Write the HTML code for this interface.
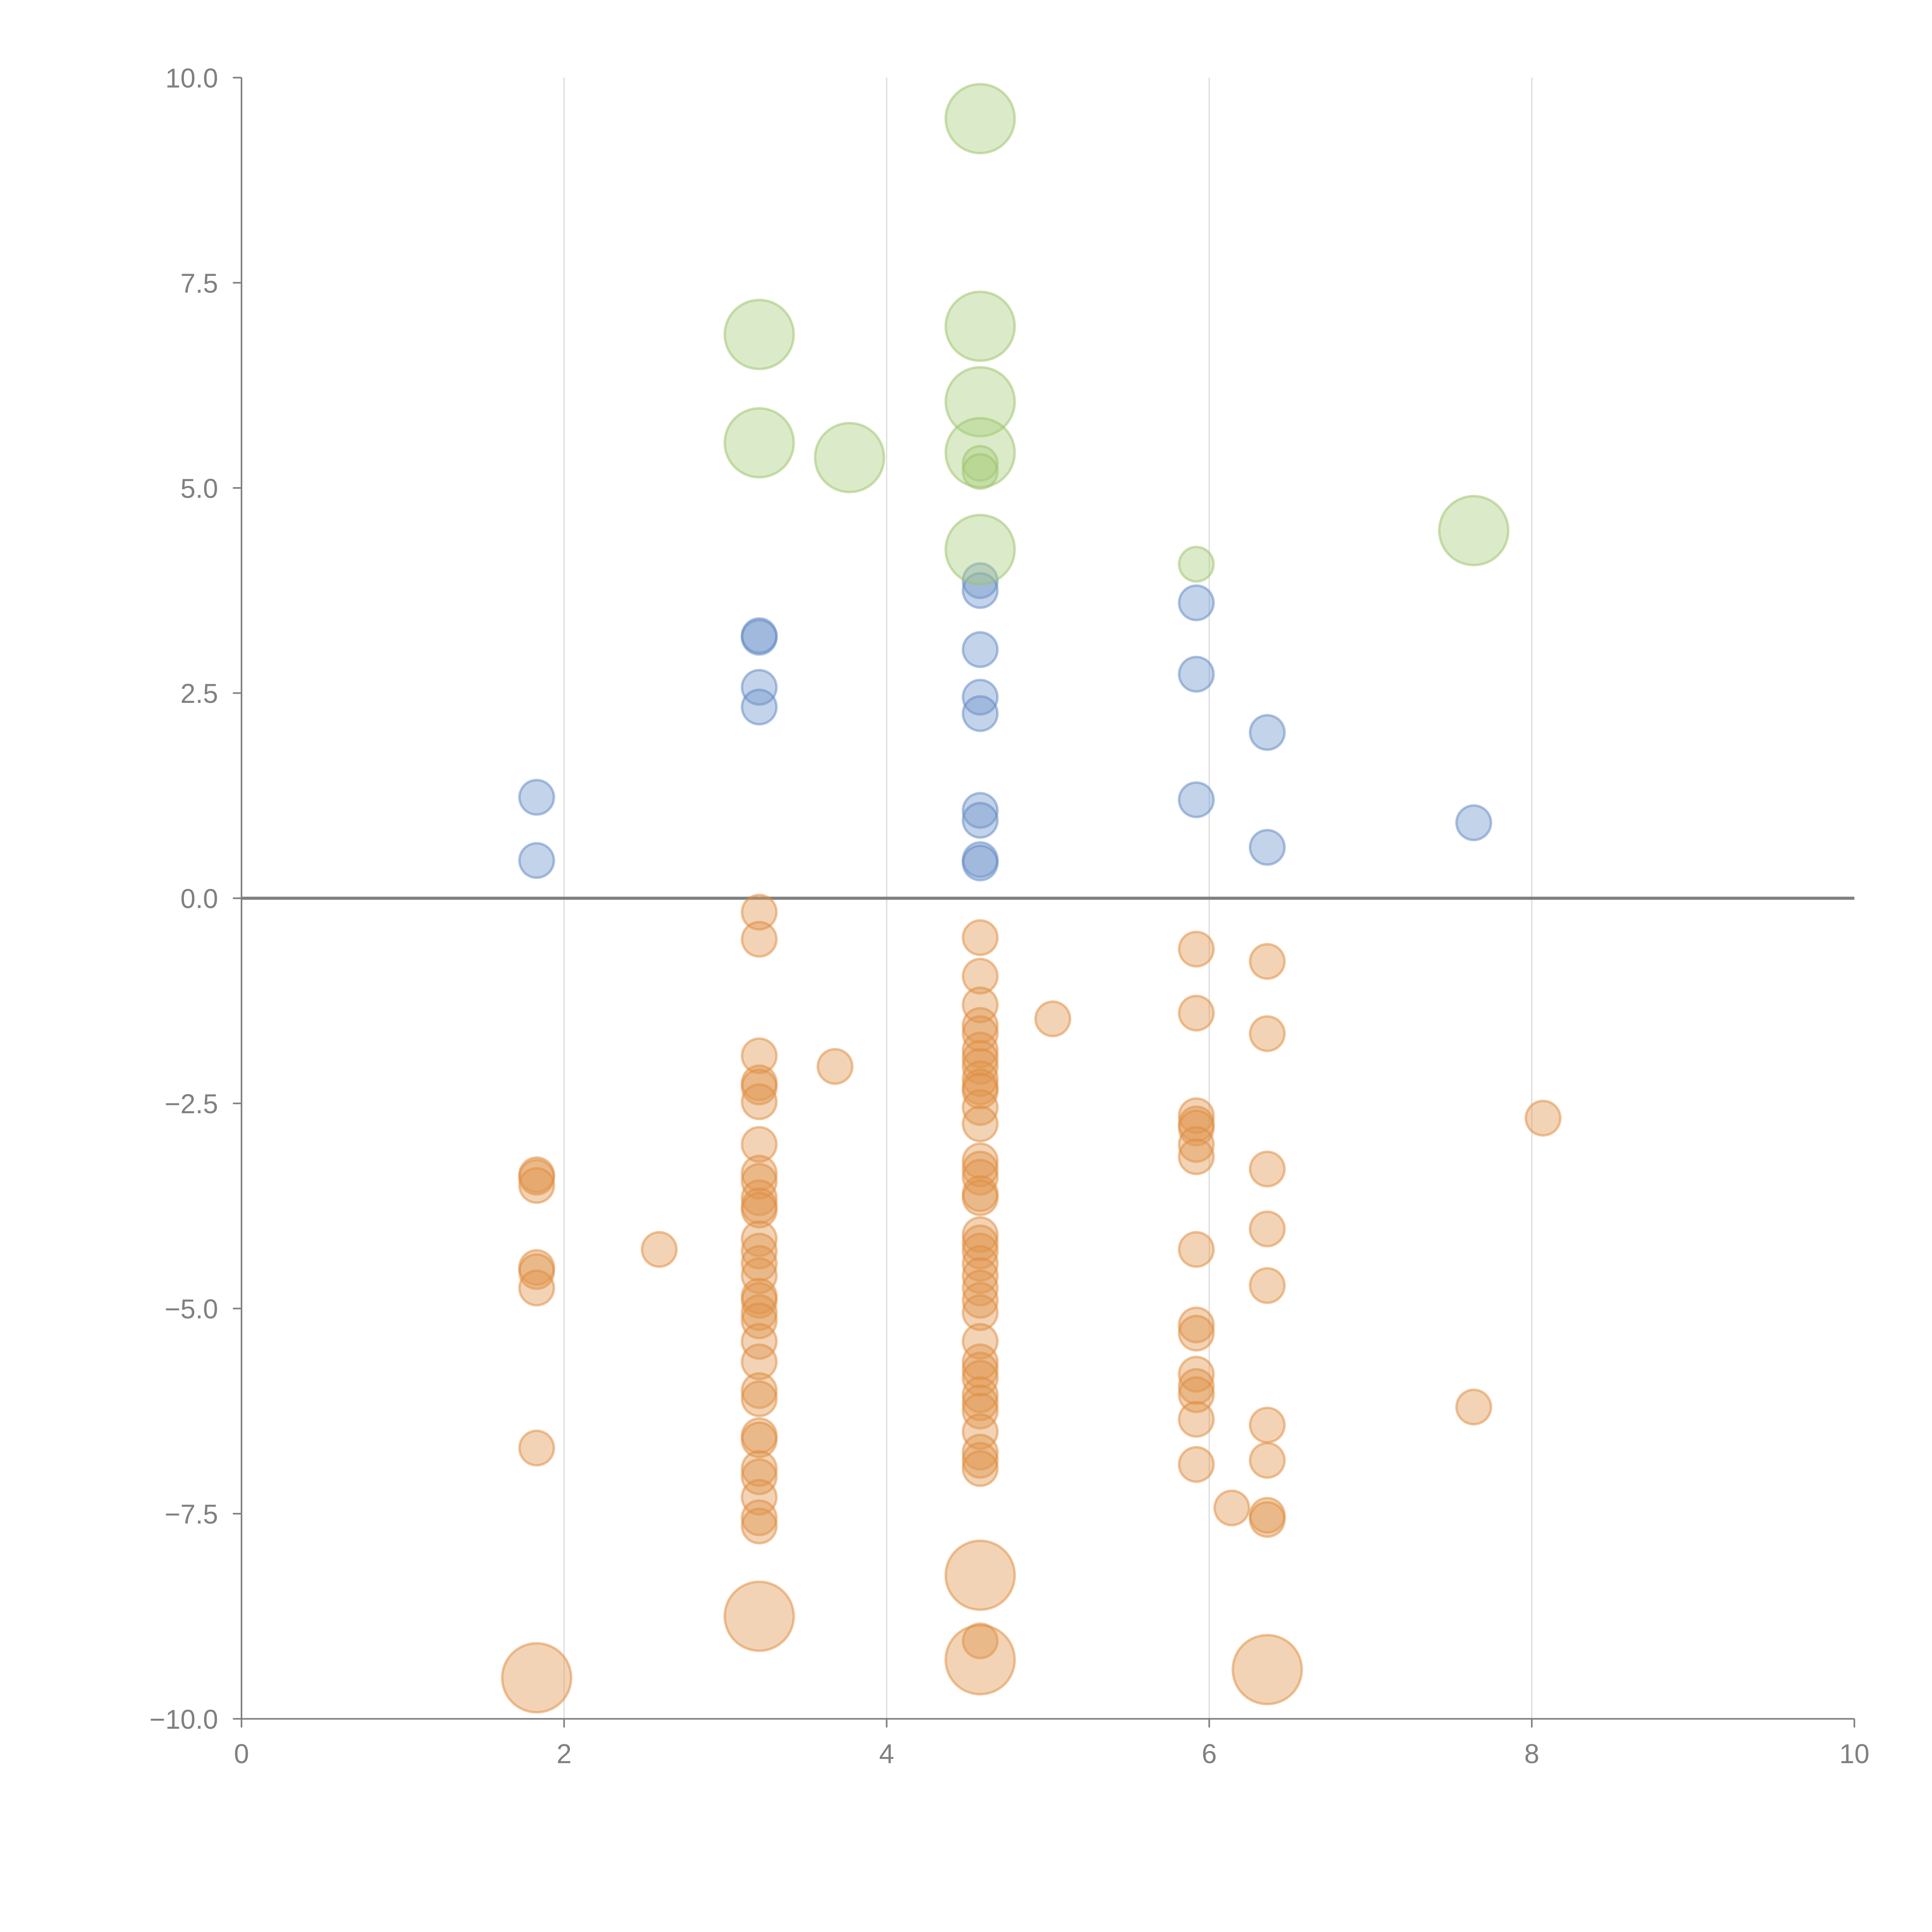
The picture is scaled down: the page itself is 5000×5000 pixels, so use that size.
<!DOCTYPE html>
<html><head><meta charset="utf-8"><style>
html,body{margin:0;padding:0;background:#fff;}
svg{display:block;}
text{font-family:"Liberation Sans",sans-serif;fill:#808080;}
</style></head><body>
<svg id="chart" width="5000" height="5000" viewBox="0 0 1568 1568" xmlns="http://www.w3.org/2000/svg">
<g id="grid"></g>
<g id="axes"></g>
<g id="marks"></g>
</svg>
<script>
const xTicks=[0,2,4,6,8,10];
const yTicks=[10,7.5,5,2.5,0,-2.5,-5,-7.5,-10];
const yTickLabels=["10.0","7.5","5.0","2.5","0.0","\u22122.5","\u22125.0","\u22127.5","\u221210.0"];
const greenX=[4.58,3.21,4.58,4.58,3.21,3.77,4.58,4.58,4.58,4.58,5.92,7.64];
const greenY=[9.5,6.87,6.97,6.05,5.55,5.37,5.43,5.3,5.2,4.25,4.07,4.48];
const greenBig=[1,1,1,1,1,1,1,0,0,1,0,1];
const blueX=[1.83,1.83,3.21,3.21,3.21,3.21,4.58,4.58,4.58,4.58,4.58,4.58,4.58,4.58,4.58,5.92,5.92,5.92,6.36,6.36,7.64];
const blueY=[1.23,0.46,3.18,3.2,2.57,2.33,3.87,3.75,3.03,2.45,2.25,1.07,0.95,0.47,0.43,3.6,2.73,1.2,2.02,0.62,0.92];
const orangeCols=[1.83,2.59,3.21,3.68,4.58,5.03,5.92,6.14,6.36,7.64,8.07];
const orangeVals=[
[-3.37,-3.4,-3.5,-4.5,-4.55,-4.75,-6.7],
[-4.28],
[-0.17,-0.5,-1.92,-2.25,-2.3,-2.48,-3.0,-3.35,-3.45,-3.65,-3.75,-3.8,-4.15,-4.3,-4.45,-4.6,-4.85,-4.9,-5.05,-5.15,-5.4,-5.65,-6.0,-6.1,-6.55,-6.6,-6.95,-7.05,-7.3,-7.55,-7.65],
[-2.05],
[-0.48,-0.95,-1.3,-1.55,-1.65,-1.85,-1.95,-2.05,-2.2,-2.3,-2.35,-2.55,-2.75,-3.2,-3.3,-3.4,-3.6,-3.65,-4.1,-4.2,-4.3,-4.45,-4.6,-4.75,-4.9,-5.05,-5.4,-5.65,-5.75,-5.85,-6.05,-6.15,-6.25,-6.5,-6.75,-6.85,-6.95,-9.05],
[-1.47],
[-0.62,-1.4,-2.65,-2.75,-2.8,-3.0,-3.15,-4.28,-5.2,-5.3,-5.8,-5.95,-6.05,-6.35,-6.9],
[-7.43],
[-0.77,-1.65,-3.3,-4.03,-4.72,-6.42,-6.85,-7.52,-7.57],
[-6.2],
[-2.68]
];
const orangeBigX=[1.83,3.21,4.58,4.58,6.36];
const orangeBigY=[-9.5,-8.75,-8.25,-9.28,-9.4];

const NS="http://www.w3.org/2000/svg";
const X0=196,X1=1505,Y0=63,Y1=1395;
const sx=v=>X0+(v-0)/(10-0)*(X1-X0);
const sy=v=>Y0+(10-v)/20*(Y1-Y0);
const grid=document.getElementById('grid'),axes=document.getElementById('axes'),marks=document.getElementById('marks');
function mk(tag,attrs,parent){const e=document.createElementNS(NS,tag);for(const k in attrs)e.setAttribute(k,attrs[k]);parent.appendChild(e);return e;}

xTicks.forEach(t=>{
  if(t>0&&t<10){
    const g=mk('line',{x1:sx(t),x2:sx(t),y1:Y0,y2:Y1,stroke:'#dcdcdc','stroke-width':1},grid);
    
    
  }
  const tk=mk('line',{x1:sx(t),x2:sx(t),y1:Y1,y2:Y1+7,stroke:'#808080','stroke-width':1.3},axes);
  
  
  const tx=mk('text',{x:sx(t),y:Y1+36,'text-anchor':'middle','font-size':22},axes);
  tx.textContent=String(t);
  
  
});
yTicks.forEach((t,i)=>{
  const tk=mk('line',{x1:X0-7,x2:X0,y1:sy(t),y2:sy(t),stroke:'#808080','stroke-width':1.3},axes);
  
  
  const tx=mk('text',{x:X0-19,y:sy(t)+8,'text-anchor':'end','font-size':22},axes);
  tx.textContent=yTickLabels[i];
  
  
});
const xa=mk('line',{x1:X0,x2:X1,y1:Y1,y2:Y1,stroke:'#808080','stroke-width':1.3},axes);


const ya=mk('line',{x1:X0,x2:X0,y1:Y0,y2:Y1,stroke:'#808080','stroke-width':1.3},axes);


const zl=mk('line',{x1:X0,x2:X1,y1:sy(0),y2:sy(0),stroke:'#808080','stroke-width':2.5},axes);



function dot(x,y,r,fill,stroke,name){
  const c=mk('circle',{cx:sx(x),cy:sy(y),r:r,fill:fill,'fill-opacity':0.42,stroke:stroke,'stroke-opacity':0.5,'stroke-width':2},marks);
  
  
}
const OR='#e0964f',BL='#6f95cb',GR='#a9cc7c';
orangeCols.forEach((x,i)=>orangeVals[i].forEach(y=>dot(x,y,14,OR,'#e08c3e','orange-point')));
orangeBigX.forEach((x,i)=>dot(x,orangeBigY[i],28,OR,'#e08c3e','orange-bubble'));
blueX.forEach((x,i)=>dot(x,blueY[i],14,BL,'#5f88c4','blue-point'));
greenX.forEach((x,i)=>dot(x,greenY[i],greenBig[i]?28:14,GR,'#9cc26a','green-bubble'));
</script>
</body></html>
